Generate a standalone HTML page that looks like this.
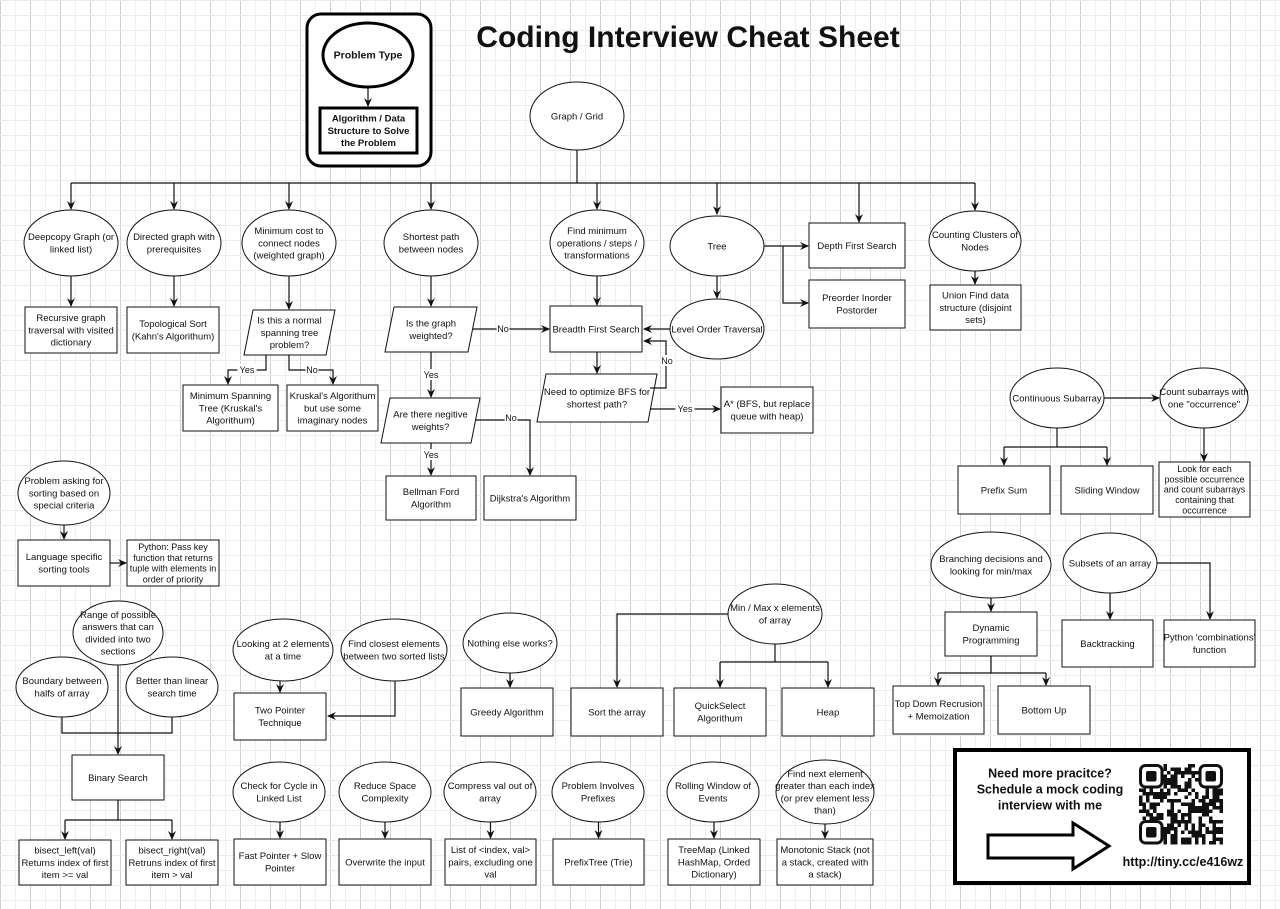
<!DOCTYPE html>
<html><head><meta charset="utf-8"><style>
html,body{margin:0;padding:0;background:#fff}
svg{display:block}
text{font-family:"Liberation Sans",Arial,sans-serif;fill:#111}
</style></head><body>
<svg id="s" width="1280" height="909" viewBox="0 0 1280 909" xmlns="http://www.w3.org/2000/svg">
<defs>
<pattern id="g" width="30" height="15" patternUnits="userSpaceOnUse">
<path d="M0.5 0V15" stroke="#cfcfcf" stroke-width="1"/>
<path d="M0 0.5H30" stroke="#ececec" stroke-width="1"/>
<path d="M15.5 0V15" stroke="#eeeeee" stroke-width="1"/>
</pattern>
<marker id="a" markerWidth="10" markerHeight="10" refX="8" refY="5" orient="auto" markerUnits="userSpaceOnUse">
<path d="M0,1 L9,5 L0,9 L3,5 Z" fill="#111"/>
</marker>
</defs>
<rect width="1280" height="909" fill="url(#g)"/>
<g id="c"></g>
</svg>
<script>
var o='';
function tx(x,y,lines,fs,b,lhf){fs=fs||9.5;var lh=fs*(lhf||1.28);var y0=y-(lines.length-1)*lh/2+fs*0.35;
 lines.forEach(function(l,i){o+='<text x="'+x+'" y="'+(y0+i*lh)+'" font-size="'+fs+'" text-anchor="middle"'+(b?' font-weight="bold"':'')+'>'+l+'</text>';});}
function E(cx,cy,rx,ry,t){o+='<ellipse cx="'+cx+'" cy="'+cy+'" rx="'+rx+'" ry="'+ry+'" fill="#fff" stroke="#111" stroke-width="1"/>';tx(cx,cy,t);}
function R(x1,y1,x2,y2,t,fs,lhf){o+='<rect x="'+x1+'" y="'+y1+'" width="'+(x2-x1)+'" height="'+(y2-y1)+'" fill="#fff" stroke="#111" stroke-width="1"/>';tx((x1+x2)/2,(y1+y2)/2,t,fs,0,lhf);}
function P(x1,y1,x2,y2,t){var s=9;o+='<polygon points="'+(x1+s)+','+y1+' '+x2+','+y1+' '+(x2-s)+','+y2+' '+x1+','+y2+'" fill="#fff" stroke="#111"/>';tx((x1+x2)/2,(y1+y2)/2,t);}
function L(p,ar){o+='<polyline points="'+p+'" fill="none" stroke="#111" stroke-width="1.2"'+(ar===false?'':' marker-end="url(#a)"')+'/>';}
function T(x,y,s){o+='<rect x="'+(x-s.length*3.2)+'" y="'+(y-6)+'" width="'+(s.length*6.4)+'" height="11" fill="#fff"/><text x="'+x+'" y="'+(y+3)+'" font-size="9" text-anchor="middle">'+s+'</text>';}

o+='<rect x="307" y="14" width="124" height="152" rx="14" fill="#fff" stroke="#000" stroke-width="3"/>';
L('368,87 368,106');
o+='<ellipse cx="368" cy="55" rx="45" ry="32" fill="#fff" stroke="#000" stroke-width="3"/>';tx(368,55,['Problem Type'],10.5,1);
o+='<rect x="320" y="108" width="97" height="45" fill="#fff" stroke="#000" stroke-width="3"/>';tx(368.5,130.5,['Algorithm / Data','Structure to Solve','the Problem'],9.5,1);
o+='<text x="688" y="47" font-size="30" font-weight="bold" text-anchor="middle">Coding Interview Cheat Sheet</text>';

L('577,150 577,183',false);L('71,183 975,183',false);
[71,174,289,431,597,717].forEach(function(x){L(x+',183 '+x+','+(x==717?214:209));});
L('975,183 975,210');
L('859,183 859,222');
E(577,116,47,34,['Graph / Grid']);
E(71,243,47,33,['Deepcopy Graph (or','linked list)']);
E(174,243,47,33,['Directed graph with','prerequisites']);
E(289,243,47,33,['Minimum cost to','connect nodes','(weighted graph)']);
E(431,243,47,33,['Shortest path','between nodes']);
E(597,243,47,33,['Find minimum','operations / steps /','transformations']);
E(975,241,46,30,['Counting Clusters of','Nodes']);
L('71,276 71,306');R(25,307,117,353,['Recursive graph','traversal with visited','dictionary']);
L('174,276 174,306');R(127,307,219,353,['Topological Sort','(Kahn\'s Algorithum)']);
L('289,276 289,309');P(244,310,335,355,['Is this a normal','spanning tree','problem?']);
L('266,355 266,370 228,370 228,384');T(247,370,'Yes');
L('289,355 289,370 333,370 333,384');T(312,370,'No');
R(183,385,278,431,['Minimum Spanning','Tree (Kruskal\'s','Algorithum)']);
R(287,385,378,431,['Kruskal\'s Algorithum','but use some','imaginary nodes']);
L('431,276 431,306');P(385,307,477,352,['Is the graph','weighted?']);
L('473,329 549,329');T(503,329,'No');
L('431,352 431,397');T(431,375,'Yes');
P(381,398,480,443,['Are there negitive','weights?']);
L('475,420 530,420 530,475');T(511,418,'No');
L('431,443 431,475');T(431,455,'Yes');
R(386,476,476,520,['Bellman Ford','Algorithm']);
R(484,476,576,520,['Dijkstra\'s Algorithm']);
L('597,276 597,305');R(550,306,642,352,['Breadth First Search']);
E(717,246,47,30,['Tree']);
L('717,276 717,298');
E(717,329,47,30,['Level Order Traversal']);
L('670,329 644,329');
L('597,352 597,373');P(537,374,657,422,['Need to optimize BFS for','shortest path?']);
L('650,388 666,388 666,341 644,341');T(667,361,'No');
L('650,409 720,409');T(685,409,'Yes');
R(721,387,813,433,['A* (BFS, but replace','queue with heap)']);
L('764,246 808,246');R(809,223,905,268,['Depth First Search']);
L('783,246 783,303 808,303');R(809,280,905,328,['Preorder Inorder','Postorder']);
L('975,271 975,284');R(930,285,1021,330,['Union Find data','structure (disjoint','sets)']);

E(1057,398,47,30,['Continuous Subarray']);
L('1104,398 1159,398');E(1204,398,44,30,['Count subarrays with','one "occurrence"']);
L('1204,428 1204,461');R(1159,462,1250,517,['Look for each','possible occurrence','and count subarrays','containing that','occurrence'],9,1.15);
L('1057,428 1057,447',false);L('1004,447 1107,447',false);L('1004,447 1004,465');L('1107,447 1107,465');
R(958,466,1050,514,['Prefix Sum']);R(1061,466,1153,514,['Sliding Window']);

E(991,565,60,33,['Branching decisions and','looking for min/max']);
L('991,598 991,611');R(945,612,1037,656,['Dynamic','Programming']);
L('991,656 991,673',false);L('938,673 1046,673',false);L('938,673 938,685');L('1046,673 1046,685');
R(893,686,984,734,['Top Down Recrusion','+ Memoization']);R(998,686,1090,734,['Bottom Up']);
E(1110,563,47,30,['Subsets of an array']);
L('1110,593 1110,619');R(1062,620,1153,667,['Backtracking']);
L('1157,563 1210,563 1210,619');R(1164,620,1255,667,['Python \'combinations\'','function']);

E(64,493,46,32,['Problem asking for','sorting based on','special criteria']);
L('64,525 64,539');R(18,540,110,586,['Language specific','sorting tools']);
L('110,563 126,563');R(127,540,219,586,['Python: Pass key','function that returns','tuple with elements in','order of priority'],9,1.2);
L('62,717 62,733 172,733 172,717',false);
E(118,633,45,32,['Range of possible','answers that can','divided into two','sections']);
L('118,665 118,754');
E(62,687,46,30,['Boundary between','halfs of array']);
E(172,687,46,30,['Better than linear','search time']);
R(72,755,164,800,['Binary Search']);
L('118,800 118,820',false);L('65,820 172,820',false);L('65,820 65,839');L('172,820 172,839');
R(19,840,111,885,['bisect_left(val)','Returns index of first','item >= val']);
R(126,840,218,885,['bisect_right(val)','Retruns index of first','item > val']);

E(283,650,50,31,['Looking at 2 elements','at a time']);
E(394,650,53,31,['Find closest elements','between two sorted lists']);
L('280,681 280,692');L('395,681 395,716 328,716');
R(234,693,326,740,['Two Pointer','Technique']);

[[279,792,46,['Check for Cycle in','Linked List'],234,326,['Fast Pointer + Slow','Pointer']],
 [385,792,46,['Reduce Space','Complexity'],339,431,['Overwrite the input']],
 [490,792,46,['Compress val out of','array'],445,536,['List of &lt;index, val&gt;','pairs, excluding one','val']],
 [598,792,46,['Problem Involves','Prefixes'],553,644,['PrefixTree (Trie)']],
 [713,792,46,['Rolling Window of','Events'],668,760,['TreeMap (Linked','HashMap, Orded','Dictionary)']],
 [825,792,49,['Find next element','greater than each index','(or prev element less','than)'],777,873,['Monotonic Stack (not','a stack, created with','a stack)']]
].forEach(function(d){var cx=(d[4]+d[5])/2;L(cx+','+(d[1]+30)+' '+cx+',838');E(d[0],d[1],d[2],d[0]==825?32:30,d[3]);R(d[4],839,d[5],885,d[6]);});

E(510,643,47,30,['Nothing else works?']);
L('510,673 510,687');R(461,688,553,736,['Greedy Algorithm']);
E(775,614,47,30,['Min / Max x elements','of array']);
L('728,614 617,614 617,687');
L('775,644 775,662',false);L('720,662 828,662',false);L('720,662 720,687');L('828,662 828,687');
R(571,688,663,736,['Sort the array']);R(674,688,766,736,['QuickSelect','Algorithum']);R(782,688,874,736,['Heap']);

o+='<rect x="955" y="750" width="294" height="133" fill="#fff" stroke="#000" stroke-width="4"/>';
tx(1050,789,['Need more pracitce?','Schedule a mock coding','interview with me'],12.5,1);
o+='<polygon points="988,835 1073,835 1073,823 1109,846 1073,869 1073,858 988,858" fill="#fff" stroke="#000" stroke-width="3"/>';
var qx=1139,qy=764,c=3.5,seed=7;
function rnd(){seed=(seed*9301+49297)%233280;return seed/233280;}
for(var i=0;i<24;i++)for(var j=0;j<23;j++){
 var inF=(i<7&&j<7)||(i>16&&j<7)||(i<7&&j>15);
 if(!inF&&rnd()<0.5)o+='<rect x="'+(qx+i*c)+'" y="'+(qy+j*c)+'" width="'+c+'" height="'+c+'" fill="#111"/>';}
[[0,0],[17*c,0],[0,16*c]].forEach(function(p){var x=qx+p[0],y=qy+p[1];
 o+='<rect x="'+(x+1.5)+'" y="'+(y+1.5)+'" width="'+(7*c-3)+'" height="'+(7*c-3)+'" rx="5" fill="none" stroke="#111" stroke-width="3"/>';
 o+='<rect x="'+(x+2*c)+'" y="'+(y+2*c)+'" width="'+(3*c)+'" height="'+(3*c)+'" rx="2" fill="#111"/>';});
o+='<text x="1183" y="866" font-size="12.5" font-weight="bold" text-anchor="middle">http://tiny.cc/e416wz</text>';
document.getElementById('c').innerHTML=o;
</script>
</body></html>
